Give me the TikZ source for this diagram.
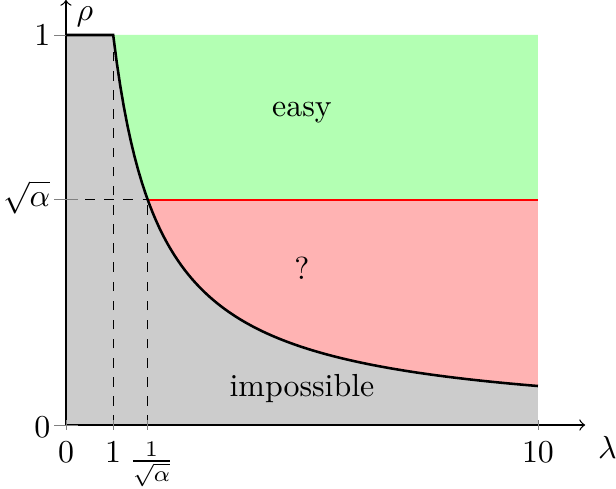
\documentclass[tikz,border=0pt]{standalone}
\usepackage{xcolor}
\usepackage{tikz}
\usepackage{amsmath}
\definecolor{EasyGreen}{HTML}{B3FFB3}
\definecolor{UnknownRed}{HTML}{FFB3B3}
\definecolor{ImpossibleGray}{HTML}{CCCCCC}

\begin{document}
\begin{tikzpicture}[x=14.8pt, y=122.3pt,
    ticklabel/.style={inner sep=0pt},
    tickmark/.style={draw=gray, line width=0.3pt},
    guide/.style={dashed, line width=0.4pt},
    boundary/.style={line width=0.8pt}]
  \useasboundingbox (-1.398,-0.1615) rectangle (11.653,1.0897);
  \def\sqa{0.57735}
  \def\isqa{1.73205}
  \coordinate (O) at (0,0);
  \coordinate (Xend) at (11.0,0);
  \coordinate (Yend) at (0,1.09);
  \coordinate (Top) at (1,1);
  \coordinate (Knee) at (\isqa,\sqa);
  \coordinate (Right) at (10,\sqa);

  % regions
  \fill[EasyGreen] (1,1) -- (10,1) -- (10,\sqa) -- (\isqa,\sqa)
    -- plot[domain=\isqa:1, samples=40] (\x,{1/\x}) -- cycle;
  \fill[UnknownRed] (\isqa,\sqa) -- (10,\sqa) -- (10,0.1)
    -- plot[domain=10:\isqa, samples=80] (\x,{1/\x}) -- cycle;
  \fill[ImpossibleGray] (0,0) -- (0,1) -- (1,1)
    -- plot[domain=1:10, samples=120] (\x,{1/\x}) -- (10,0) -- cycle;

  % guides
  \draw[guide] (1,0) -- (Top);
  \draw[guide] (0,\sqa) -- (Knee);
  \draw[guide] (\isqa,0) -- (Knee);

  % axes and ticks
  \draw[->, line width=0.4pt] (O) -- (Xend);
  \draw[->, line width=0.4pt] (O) -- (Yend);
  \foreach \t in {0,1,\isqa,10}
    \draw[tickmark] (\t,-0.012) -- (\t,0.012);
  \foreach \t in {0,\sqa,1}
    \draw[tickmark] (-0.25,\t) -- (0.25,\t);

  % boundaries
  \draw[red, line width=0.8pt] (Knee) -- (Right);
  \draw[boundary] (0,1) -- (Top) -- plot[domain=1:10, samples=120] (\x,{1/\x});

  % labels
  \node[ticklabel, anchor=base] (x0) at (0,-0.0949) {$0$};
  \node[ticklabel, anchor=base] (x1) at (1,-0.0949) {$1$};
  \node[ticklabel, anchor=north] (xsa) at (\isqa+0.08,-0.042) {$\frac{1}{\sqrt{\alpha}}$};
  \node[ticklabel, anchor=base] (x10) at (10,-0.0949) {$10$};
  \node[ticklabel, anchor=base east] (y0) at (-0.32,-0.0308) {$0$};
  \node[ticklabel, anchor=base east] (ysa) at (-0.32,0.5615) {$\sqrt{\alpha}$};
  \node[ticklabel, anchor=base east] (y1) at (-0.32,0.974) {$1$};
  \node[ticklabel, anchor=base] (rho) at (0.40,1.036) {$\rho$};
  \node[ticklabel, anchor=base] (lambda) at (11.47,-0.0846) {$\lambda$};

  \node[ticklabel, anchor=base] (easy) at (5,0.790) {easy};
  \node[ticklabel, anchor=base] (unknown) at (5,0.372) {?};
  \node[ticklabel, anchor=base] (impossible) at (5,0.0744) {impossible};
\end{tikzpicture}
\end{document}
